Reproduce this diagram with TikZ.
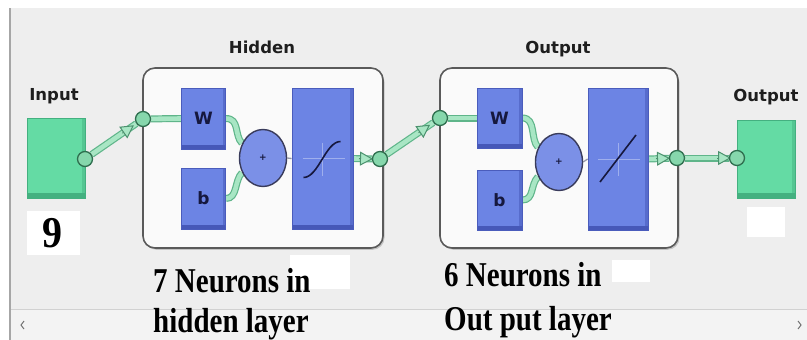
\documentclass[tikz,border=0pt]{standalone}
\usepackage{fontspec}
\setmainfont{Liberation Serif}
\newfontfamily\labfont{DejaVu Sans}
\usetikzlibrary{calc,arrows.meta,shapes.geometric,shadows}
\definecolor{panel}{HTML}{EEEEEE}
\definecolor{scrollc}{HTML}{F3F3F3}
\definecolor{blueC}{HTML}{6C84E4}
\definecolor{blueD}{HTML}{4658B8}
\definecolor{blueE}{HTML}{4A5CBC}
\definecolor{navy}{HTML}{16183E}
\definecolor{greenC}{HTML}{64DBA4}
\definecolor{greenD}{HTML}{44B080}
\definecolor{clight}{HTML}{A8E6C4}
\definecolor{cdark}{HTML}{5FB58A}
\definecolor{circF}{HTML}{86D7AC}
\definecolor{circD}{HTML}{2F6F4F}
\definecolor{boxline}{HTML}{5A5A5A}
\definecolor{labc}{HTML}{1E1E1E}
\pgfdeclarelayer{bg}
\pgfdeclarelayer{back}
\pgfdeclarelayer{wires}
\pgfsetlayers{bg,back,wires,main}
\begin{document}
\begin{tikzpicture}[x=1pt,y=-1pt,
  layerbox/.style={rectangle, rounded corners=12pt, fill=white!98!black, draw=boxline, line width=1.6pt,
     drop shadow={shadow xshift=1.5pt, shadow yshift=-1.8pt, fill=black!40, opacity=0.5}},
  blk/.style={rectangle, fill=blueC, draw=blueE, line width=0.8pt, inner sep=0pt,
     text=navy, font=\labfont\bfseries\fontsize{17}{17}\selectfont,
     path picture={\fill[blueD] (path picture bounding box.south west) rectangle ([yshift=4pt]path picture bounding box.south east);
                   \fill[blueD!55!blueC] ([xshift=-3pt]path picture bounding box.north east) rectangle ([yshift=4pt]path picture bounding box.south east);}},
  gbox/.style={rectangle, fill=greenC, draw=greenD, line width=0.6pt, inner sep=0pt,
     path picture={\fill[greenD] (path picture bounding box.south west) rectangle ([yshift=5pt]path picture bounding box.south east);
                   \fill[greenD!50!greenC] ([xshift=-3pt]path picture bounding box.north east) rectangle ([yshift=5pt]path picture bounding box.south east);}},
  sumnode/.style={ellipse, fill=blueC!90!white, draw=navy!85, line width=1.4pt, minimum width=47pt, minimum height=57pt, inner sep=0pt,
     text=navy, font=\labfont\bfseries\fontsize{9}{9}\selectfont},
  port/.style={circle, fill=circF, draw=circD, line width=1.3pt, minimum size=15pt, inner sep=0pt},
  wire/.style={line width=4.6pt, draw=clight, preaction={draw=cdark, line width=7pt}},
  thin wire/.style={line width=1.3pt, draw=navy!45!white},
  tri/.style={draw=cdark!80!black, line width=1pt, -{Triangle[length=13pt,width=14pt,fill=clight]}},
  lab/.style={text=labc, font=\labfont\bfseries\fontsize{16.5}{16.5}\selectfont, inner sep=0pt},
  big/.style={text=black, font=\bfseries\fontsize{29}{29}\selectfont, inner sep=0pt, anchor=base west},
  icon/.style={draw=navy, line width=1.6pt},
  axis/.style={draw=white!35!blueC, line width=0.6pt},
  patch/.style={fill=white}
]
\useasboundingbox (0,0) rectangle (807,340);
% background
\begin{pgfonlayer}{bg}
\fill[white] (0,0) rectangle (807,340);
\fill[panel] (10,8) rectangle (807,340);
\fill[scrollc] (10,309) rectangle (807,340);
\draw[black!18, line width=1pt] (10,309) -- (807,309);
\draw[black!35, line width=1.2pt] (10,8) -- (10,340);
\draw[black!55, line width=1pt] (24,321) -- (21,325) -- (24,329);
\draw[black!55, line width=1pt] (798,321) -- (801,325) -- (798,329);
% white patches
\fill[patch] (27,211) rectangle (80,255);
\fill[patch] (290,255) rectangle (350,289);
\fill[patch] (612,260) rectangle (650,282);
\fill[patch] (747,207) rectangle (785,237);
\end{pgfonlayer}

% layer boxes
\begin{pgfonlayer}{back}
\node[layerbox, minimum width=240pt, minimum height=180pt] (hid) at (263,158) {};
\node[layerbox, minimum width=238pt, minimum height=180pt] (out) at (559,158) {};
\end{pgfonlayer}

% input / output boxes
\node[gbox, minimum width=58pt, minimum height=80pt] (inbox) at (56,158) {};
\node[gbox, minimum width=58pt, minimum height=78pt] (outbox) at (766,159) {};

% hidden layer blocks
\node[blk, minimum width=44pt, minimum height=61pt] (hW) at (203.5,118.5) {W};
\node[blk, minimum width=44pt, minimum height=61pt] (hb) at (203.5,198.5) {b};
\node[sumnode] (hsum) at (263,158) {+};
\node[blk, minimum width=61pt, minimum height=141pt] (hf) at (322.5,158.5) {};

% output layer blocks
\node[blk, minimum width=45pt, minimum height=60pt] (oW) at (499.5,118) {W};
\node[blk, minimum width=45pt, minimum height=60pt] (ob) at (499.5,200) {b};
\node[sumnode] (osum) at (559,162) {+};
\node[blk, minimum width=60pt, minimum height=142pt] (of) at (618,159) {};

% ports
\node[port] (incirc) at (85,159) {};
\node[port] (hinc) at (143,119) {};
\node[port] (houtc) at (380,159) {};
\node[port] (oinc) at (440,118) {};
\node[port] (ooutc) at (677,158) {};
\node[port] (finc) at (737,158) {};

% transfer icons
\draw[axis] ($(hf.center)+(-20,0)$) -- ($(hf.center)+(22,0)$);
\draw[axis] ($(hf.center)+(0,-16)$) -- ($(hf.center)+(0,17)$);
\draw[icon] ($(hf.center)+(-19,19)$) .. controls ($(hf.center)+(-4,19)$) and ($(hf.center)+(3,-17)$) .. ($(hf.center)+(18,-17)$);
\draw[axis] ($(of.center)+(-20,0)$) -- ($(of.center)+(22,0)$);
\draw[axis] ($(of.center)+(0,-16)$) -- ($(of.center)+(0,17)$);
\draw[icon] ($(of.center)+(-18,23)$) -- ($(of.center)+(18,-24)$);

% wires
\begin{pgfonlayer}{wires}
\draw[wire] (incirc) -- (hinc);
\draw[tri] ($(hinc)!25pt!(incirc)$) -- ($(hinc)!11pt!(incirc)$);
\draw[wire] (hinc) -- (hW.west);
\draw[wire] (hW.east) .. controls +(14,0) and +(-8,-8) .. (hsum.145);
\draw[wire] (hb.east) .. controls +(12,0) and +(-8,8) .. (hsum.215);
\draw[thin wire] (hsum.east) -- (hf.west);
\draw[wire] (hf.east) -- (houtc);
\draw[tri] ($(houtc)!21pt!(hf.east)$) -- ($(houtc)!7pt!(hf.east)$);
\draw[wire] (houtc) -- (oinc);
\draw[tri] ($(oinc)!26pt!(houtc)$) -- ($(oinc)!12pt!(houtc)$);
\draw[wire] (oinc) -- (oW.west);
\draw[wire] (oW.east) .. controls +(14,0) and +(-8,-8) .. (osum.145);
\draw[wire] (ob.east) .. controls +(12,0) and +(-8,8) .. (osum.215);
\draw[thin wire] (osum.east) -- (of.west);
\draw[wire] (of.east) -- (ooutc);
\draw[tri] ($(ooutc)!21pt!(of.east)$) -- ($(ooutc)!7pt!(of.east)$);
\draw[wire] (ooutc) -- (finc);
\draw[tri] ($(finc)!20pt!(ooutc)$) -- ($(finc)!6pt!(ooutc)$);
\end{pgfonlayer}

% labels
\node[lab, anchor=base] (inlab) at (54,100) {Input};
\node[lab, anchor=base] (hidlab) at (262,53) {Hidden};
\node[lab, anchor=base] (outlab) at (558,53) {Output};
\node[lab, anchor=base] (foutlab) at (766,101) {Output};

% big texts
\node[text=black, font=\bfseries\fontsize{40}{40}\selectfont, inner sep=0pt, anchor=base] (nine) at (52,247) {\scalebox{1}[1.1]{9}};
\node[big] (t1) at (153,292) {\scalebox{1}[1.2]{7 Neurons in}};
\node[big] (t2) at (153,332) {\scalebox{1}[1.2]{hidden layer}};
\node[big] (t3) at (444,286) {\scalebox{1}[1.2]{6 Neurons in}};
\node[big] (t4) at (444,330) {\scalebox{1}[1.2]{Out put layer}};
\end{tikzpicture}
\end{document}
